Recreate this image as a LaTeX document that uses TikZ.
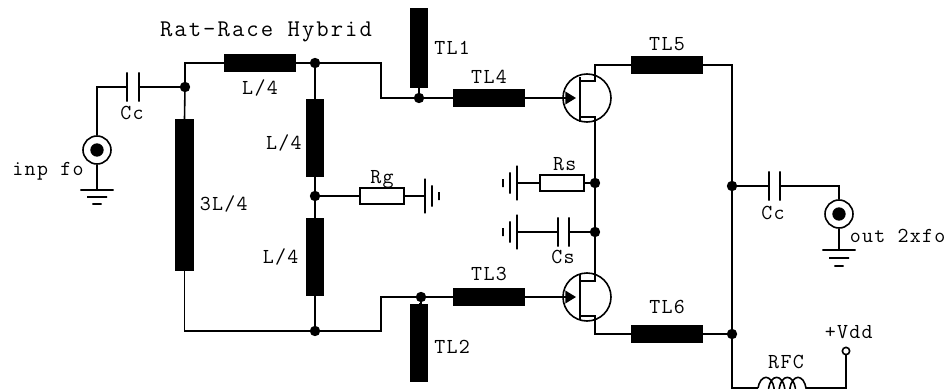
\documentclass[tikz,border=0pt]{standalone}
\usepackage{fontspec}
\setmonofont{Latin Modern Mono}
\usetikzlibrary{arrows.meta, positioning, decorations.pathmorphing}
\tikzset{%
	tlh/.style={draw, rectangle, fill=black, minimum width=52.5pt, minimum height=13pt, inner sep=0mm},
	tlv/.style={draw, rectangle, fill=black, minimum width=12.5pt, minimum height=#1, inner sep=0mm},
	res/.style={draw, rectangle, minimum width=33pt, minimum height=12pt, inner sep=0mm},
	junc/.style={draw, circle, fill=black, minimum size=6.5pt, inner sep=0mm},
	fet/.style={draw, circle, minimum size=36pt, inner sep=0mm},
	port/.style={draw, circle, minimum size=21pt, inner sep=0mm},
	portdot/.style={circle, fill=black, minimum size=10pt, inner sep=0mm},
	pin/.style={draw, circle, fill=white, minimum size=5.5pt, inner sep=0mm},
	platev/.style={draw, rectangle, minimum width=0pt, minimum height=#1, inner sep=0mm},
	plateh/.style={draw, rectangle, minimum height=0pt, minimum width=#1, inner sep=0mm},
	lab/.style={font=\ttfamily\fontsize{16}{16}\selectfont\addfontfeature{LetterSpace=6}, inner sep=0mm},
	title/.style={font=\ttfamily\fontsize{18}{18}\selectfont\addfontfeature{LetterSpace=8.5}, inner sep=0mm},
	wire/.style={line width=1.2pt},
	gate/.style={wire, -{Triangle[length=8pt, width=9.5pt]}},
	choke/.style={wire, decorate, decoration={coil, aspect=0.5, segment length=8pt, amplitude=8pt}}
}
\begin{document}
\begin{tikzpicture}[x=0.75pt, y=-0.75pt, every node/.append style={line width=1.2pt}]
	\useasboundingbox (0,0) rectangle (950,389);

	% input side
	\node[port]    (pin1) at (97,150) {};
	\node[portdot] (pdot1) at (pin1) {};
	\node[lab]     (linp) at (48,171) {inp fo};
	\node[plateh=25pt] (g1a) at (97,190) {};
	\node[plateh=15pt] (g1b) at (97,197) {};
	\node[plateh=7pt]  (g1c) at (97,204) {};
	\node[platev=22pt] (c1a) at (127,87) {};
	\node[platev=22pt] (c1b) at (139,87) {};
	\node[lab] (lcc1) at (132,113) {Cc};
	\node[junc] (j1) at (185,87) {};

	% rat-race
	\node[tlh, label={[lab, label distance=5pt]below:L/4}] (ta) at (260,63) {};
	\node[junc] (j2) at (315,63) {};
	\node[tlv=113pt, label={[lab, label distance=4pt, yshift=-7pt]0:3L/4}] (tb) at (184.5,195) {};
	\node[tlv=57pt, label={[lab, label distance=2.5pt, yshift=-4pt]180:L/4}] (tc) at (315,138) {};
	\node[junc] (j3) at (315,196) {};
	\node[tlv=57pt, label={[lab, label distance=5pt]180:L/4}] (td) at (315,257) {};
	\node[junc] (j4) at (315,331) {};
	\node[title] (ltitle) at (266,32) {Rat-Race Hybrid};

	\node[res, label={[lab, label distance=-1.75pt]90:Rg}] (rg) at (382,196) {};
	\node[platev=26pt] (g2a) at (425,196) {};
	\node[platev=16pt] (g2b) at (432,196) {};
	\node[platev=6pt]  (g2c) at (439,196) {};

	% stubs and gate lines
	\coordinate (b1) at (381,98);
	\coordinate (b2) at (381,297);
	\node[junc] (j5) at (419,98) {};
	\node[junc] (j6) at (421,297) {};
	\node[tlv=59pt, label={[lab, label distance=4pt]0:TL1}] (tl1) at (419,48) {};
	\node[tlv=57pt, label={[lab, label distance=4pt, yshift=-3pt]0:TL2}] (tl2) at (419,343) {};
	\node[tlh, label={[lab, label distance=3pt]90:TL4}] (tl4) at (489,98) {};
	\node[tlh, label={[lab, label distance=4.5pt]90:TL3}] (tl3) at (489,297) {};

	% transistors
	\node[fet] (q1) at (587,98) {};
	\node[fet] (q2) at (587,297) {};
	\coordinate (g1) at (576,98);
	\coordinate (g2) at (576,297);
	\coordinate (q1t) at (580,77);
	\coordinate (q1b) at (580,122);
	\coordinate (q2t) at (580,275);
	\coordinate (q2b) at (580,320);
	\coordinate (q1d) at (580,81);
	\coordinate (q1s) at (580,117);
	\coordinate (q2d) at (580,281);
	\coordinate (q2s) at (580,316);
	\coordinate (d1) at (595,81);
	\coordinate (s1) at (595,117);
	\coordinate (d2) at (595,281);
	\coordinate (s2) at (595,316);

	% source network
	\node[junc] (j7) at (595,183) {};
	\node[junc] (j8) at (595,232) {};
	\node[res, label={[lab, label distance=2pt, xshift=2pt]90:Rs}] (rs) at (562,183) {};
	\node[platev=26pt] (g3a) at (517,183) {};
	\node[platev=16pt] (g3b) at (510,183) {};
	\node[platev=6pt]  (g3c) at (503,183) {};
	\node[platev=22pt] (cs1) at (558,232) {};
	\node[platev=22pt] (cs2) at (569,232) {};
	\node[lab] (lcs) at (563,257) {Cs};
	\node[platev=26pt] (g4a) at (517,232) {};
	\node[platev=16pt] (g4b) at (510,232) {};
	\node[platev=6pt]  (g4c) at (503,232) {};

	% output side
	\node[tlh, label={[lab, label distance=3pt]90:TL5}] (tl5) at (667,65) {};
	\node[tlh, label={[lab, label distance=7.5pt]90:TL6}] (tl6) at (667,334) {};
	\node[junc] (j9) at (732,186) {};
	\node[junc] (j10) at (732,334) {};
	\node[platev=22pt] (c2a) at (769,186) {};
	\node[platev=22pt] (c2b) at (780,186) {};
	\node[lab] (lcc2) at (773,213) {Cc};
	\node[port]    (pout) at (839,214) {};
	\node[portdot] (pdot2) at (pout) {};
	\node[lab, anchor=west] (lout) at (849,236) {out 2xfo};
	\node[plateh=25pt] (g5a) at (839,250) {};
	\node[plateh=15pt] (g5b) at (839,258) {};
	\node[plateh=7pt]  (g5c) at (839,266) {};
	\coordinate (r1) at (732,388);
	\coordinate (l1) at (758,388);
	\coordinate (l2) at (810,388);
	\coordinate (r2) at (846,388);
	\node[pin, label={[lab, label distance=5pt, xshift=2pt]90:+Vdd}] (vdd) at (846,351) {};
	\node[lab] (lrfc) at (786,362) {RFC};

	% connections
	\draw[wire] (pin1) |- (c1a);
	\draw[wire] (pin1) -- (g1a);
	\draw[wire] (c1b) -- (j1);
	\draw[wire] (j1) |- (ta.west);
	\draw[wire] (j1) -- (tb.north);
	\draw[wire] (ta.east) -- (j2);
	\draw[wire] (j2) -- (tc.north);
	\draw[wire] (tc.south) -- (j3);
	\draw[wire] (j3) -- (td.north);
	\draw[wire] (td.south) -- (j4);
	\draw[wire] (tb.south) |- (j4);
	\draw[wire] (j3) -- (rg.west);
	\draw[wire] (rg.east) -- (g2a);
	\draw[wire] (j2) -| (b1) -- (j5);
	\draw[wire] (j4) -| (b2) -- (j6);
	\draw[wire] (j5) -- (tl1.south);
	\draw[wire] (j6) |- (tl2.north);
	\draw[wire] (j5) -- (tl4.west);
	\draw[wire] (j6) -- (tl3.west);
	\draw[gate] (tl4.east) -- (g1);
	\draw[gate] (tl3.east) -- (g2);
	\draw[wire] (q1t) -- (q1b);
	\draw[wire] (q2t) -- (q2b);
	\draw[wire] (q1d) -- (d1) |- (tl5.west);
	\draw[wire] (q1s) -- (s1) -- (j7);
	\draw[wire] (q2d) -- (d2) -- (j8);
	\draw[wire] (q2s) -- (s2) |- (tl6.west);
	\draw[wire] (j7) -- (j8);
	\draw[wire] (j7) -- (rs.east);
	\draw[wire] (rs.west) -- (g3a);
	\draw[wire] (j8) -- (cs2);
	\draw[wire] (cs1) -- (g4a);
	\draw[wire] (tl5.east) -| (j9);
	\draw[wire] (j9) -- (j10);
	\draw[wire] (tl6.east) -- (j10);
	\draw[wire] (j9) -- (c2a);
	\draw[wire] (c2b) -| (pout);
	\draw[wire] (pout) -- (g5a);
	\draw[wire] (j10) -- (r1) -- (l1);
	\draw[choke] (l1) -- (l2);
	\draw[wire] (l2) -- (r2) -- (vdd);
\end{tikzpicture}
\end{document}
